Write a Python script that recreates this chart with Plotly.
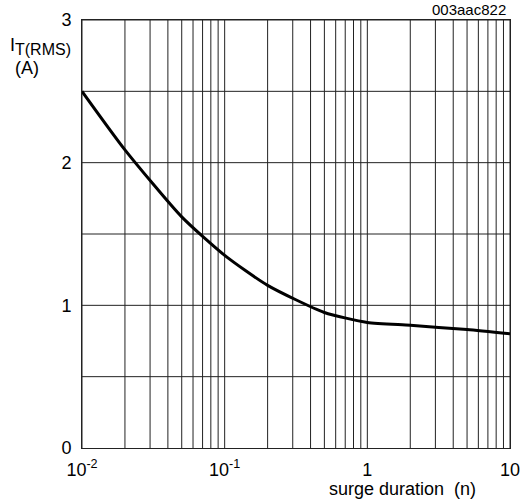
import plotly.graph_objects as go

duration = [0.01, 0.02, 0.05, 0.1, 0.2, 0.5, 1, 2, 5, 10]
current = [2.5, 2.09, 1.62, 1.35, 1.14, 0.95, 0.88, 0.86, 0.83, 0.80]

x_tickvals = [0.01, 0.1, 1, 10]
x_ticktext = ["10<sup>-2</sup>", "10<sup>-1</sup>", "1", "10"]
y_tickvals = [0, 1, 2, 3]
x_grid = [m * 10 ** e for e in (-2, -1, 0) for m in range(1, 10)] + [10]
y_grid = [0.5, 1, 1.5, 2, 2.5, 3]

fig = go.Figure()
fig.add_trace(go.Scatter(x=duration, y=current, mode="lines",
                         line=dict(color="black", width=3, shape="spline", smoothing=0.6),
                         showlegend=False, hoverinfo="skip"))

shapes = []
for g in x_grid:
    shapes.append(dict(type="line", xref="x", yref="paper", x0=g, x1=g, y0=0, y1=1,
                       line=dict(color="#222", width=1), layer="below"))
for g in y_grid:
    shapes.append(dict(type="line", xref="paper", yref="y", x0=0, x1=1, y0=g, y1=g,
                       line=dict(color="#222", width=1), layer="below"))

fam = "Liberation Sans, Arial, sans-serif"
font = dict(family=fam, size=18, color="black")
fig.update_layout(
    width=524, height=503,
    margin=dict(l=82, r=14, t=20, b=55, autoexpand=False),
    paper_bgcolor="white", plot_bgcolor="white",
    font=font,
    shapes=shapes,
    xaxis=dict(type="log", range=[-2, 1], tickvals=x_tickvals, ticktext=x_ticktext,
               showgrid=False, zeroline=False, showline=True, linecolor="#222", linewidth=1,
               ticks="", ticklabelstandoff=5, tickfont=font, mirror=True, automargin=False),
    yaxis=dict(range=[0, 3], tickvals=y_tickvals, showgrid=False, zeroline=False,
               showline=True, linecolor="#222", linewidth=1, ticks="", ticklabelstandoff=6,
               tickfont=font, mirror=True, automargin=False),
    annotations=[
        dict(text="I<sub><span style='font-size:16px'>T(RMS)</span></sub><br> (A)",
             xref="paper", yref="paper", x=-0.172, y=0.97,
             xanchor="left", yanchor="top", showarrow=False, align="left",
             font=dict(family=fam, size=18, color="black")),
        dict(text="surge duration  (n)", xref="paper", yref="paper", x=0.748, y=-0.068,
             xanchor="center", yanchor="top", showarrow=False, font=dict(family=fam, size=18, color="black")),
        dict(text="003aac822", xref="paper", yref="paper", x=0.995, y=1.0, yshift=0,
             xanchor="right", yanchor="bottom", showarrow=False,
             font=dict(family=fam, size=15, color="black")),
    ],
)

fig.write_html("out.html", config={"displayModeBar": False, "responsive": False},
               post_script="document.documentElement.style.overflow='hidden';document.body.style.overflow='hidden';document.body.style.margin='0';document.body.style.padding='0';")
